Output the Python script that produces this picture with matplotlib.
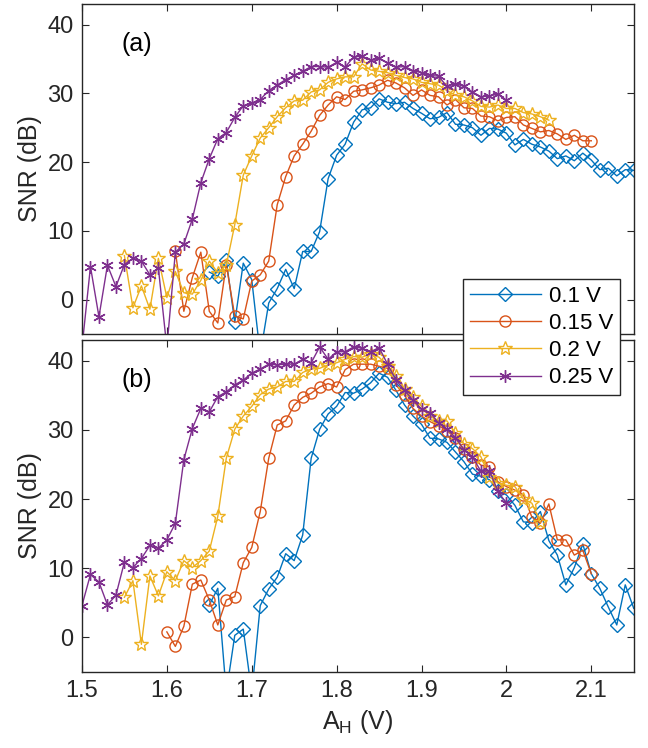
import numpy as np
import matplotlib as mpl
import matplotlib.pyplot as plt

mpl.use('Agg')

plt.rcParams['font.family'] = ['Liberation Sans', 'DejaVu Sans']
plt.rcParams['font.size'] = 16

# sweep step of A_H (V) and where each series starts
step = 0.01
labels = ['0.1 V', '0.15 V', '0.2 V', '0.25 V']
starts = [1.65, 1.61, 1.55, 1.50]
starts_b = [1.65, 1.60, 1.55, 1.50]

# panel (a) SNR values (dB)
blue_a = [4.0, 3.4, 5.7, -3.3, 5.3, 2.9, -8, -0.5, 1.6, 4.4,
          1.6, 7.0, 7.0, 9.9, 17.6, 21.0, 22.6, 25.8, 27.6, 27.9,
          29.2, 28.7, 28.5, 28.7, 27.8, 27.1, 26.3, 26.5, 27.2, 25.5,
          25.4, 25.0, 23.9, 24.9, 24.8, 24.2, 22.5, 23.3, 22.6, 22.2,
          21.6, 20.5, 20.9, 20.2, 21.3, 20.3, 18.9, 19.1, 18.0, 18.9,
          18.8]
orange_a = [7.0, -1.7, 3.2, 6.9, -1.7, -3.4, 5.1, -2.4, -2.8, 2.7,
            3.6, 5.6, 13.8, 17.9, 20.9, 22.6, 24.5, 26.8, 28.3, 29.5,
            29.1, 30.3, 30.5, 30.8, 31.2, 31.9, 31.5, 30.8, 29.7, 30.5,
            29.7, 29.5, 28.3, 29.1, 27.9, 27.8, 26.7, 26.6, 26.0, 26.5,
            26.6, 25.4, 24.9, 24.4, 24.6, 24.1, 23.3, 23.9, 23.1, 23.1]
yellow_a = [6.4, -1.2, 2.0, -1.4, 6.0, 0.3, 4.1, 1.0, 0.8, 2.8,
            5.6, 3.9, 5.0, 10.9, 18.1, 20.9, 23.5, 25.0, 26.6, 27.9,
            28.9, 29.0, 30.2, 30.5, 31.6, 32.1, 32.4, 32.4, 34.3, 33.4,
            33.2, 33.0, 32.6, 32.3, 32.1, 31.6, 31.4, 31.2, 30.4, 29.7,
            29.5, 28.9, 28.1, 28.0, 28.3, 27.8, 27.8, 27.2, 27.0, 26.6,
            26.1]
purple_a = [-7, 4.8, -2.5, 5.0, 1.9, 5.1, 6.0, 5.6, 3.6, 4.6,
            -7, 6.9, 8.1, 11.7, 17.0, 20.5, 23.4, 24.3, 26.5, 28.2,
            28.6, 29.1, 30.4, 31.2, 32.0, 32.6, 33.2, 33.9, 33.9, 33.8,
            34.5, 33.8, 35.3, 35.4, 34.8, 35.1, 34.4, 33.8, 33.9, 33.3,
            33.0, 32.6, 32.5, 31.0, 31.4, 31.0, 30.2, 29.5, 29.6, 29.9,
            29.0]

# panel (b) SNR values (dB)
blue_b = [4.7, 7.1, -8, 0.3, 1.2, -8, 4.6, 7.0, 8.7, 12.1,
          11.1, 14.8, 25.9, 30.1, 32.3, 33.4, 35.4, 35.3, 35.9, 36.8,
          38.2, 37.6, 35.7, 33.6, 32.0, 30.8, 28.8, 28.7, 28.2, 26.8,
          25.4, 23.6, 23.3, 22.8, 21.2, 20.6, 19.1, 16.7, 16.6, 18.2,
          14.0, 11.9, 7.6, 10.1, 13.5, 9.2, 7.1, 4.4, 1.8, 7.6,
          4.2]
orange_b = [0.8, -1.3, 1.6, 7.7, 8.3, 5.4, 1.8, 5.4, 5.9, 10.8,
            13.0, 18.2, 25.9, 30.7, 31.3, 33.6, 34.7, 35.3, 36.2, 36.7,
            36.2, 38.7, 39.5, 39.5, 39.5, 39.2, 38.9, 36.5, 35.0, 33.1,
            32.0, 31.2, 30.6, 29.9, 28.8, 27.2, 26.1, 24.9, 24.7, 22.5,
            21.8, 21.3, 20.6, 17.4, 16.5, 19.3, 14.1, 14.1, 11.9, 12.6,
            9.2]
yellow_b = [5.8, 8.2, -1.0, 8.9, 6.0, 9.5, 8.2, 11.1, 10.1, 11.1,
            12.5, 17.5, 25.9, 30.1, 32.0, 33.4, 35.1, 35.9, 36.2, 37.0,
            37.0, 38.3, 38.8, 38.9, 39.4, 39.7, 40.2, 40.6, 40.5, 41.0,
            40.5, 39.2, 37.8, 35.9, 34.7, 33.4, 32.0, 31.3, 31.3, 29.5,
            28.0, 27.3, 26.1, 23.2, 22.3, 22.0, 21.8, 20.0, 19.4, 16.7]
purple_b = [4.6, 9.1, 8.0, 4.7, 6.1, 10.9, 10.1, 11.4, 13.3, 12.9,
            14.1, 16.5, 25.7, 30.2, 33.1, 32.6, 34.8, 35.5, 36.5, 37.2,
            38.2, 38.8, 39.5, 39.4, 39.5, 39.5, 40.2, 39.7, 42.0, 40.2,
            41.3, 41.3, 42.0, 41.8, 41.3, 41.9, 39.5, 37.2, 35.7, 34.3,
            33.0, 32.5, 31.0, 30.1, 28.9, 27.1, 26.1, 24.0, 24.1, 21.1,
            19.4]

# MATLAB default colours and markers
colors = ['#0072BD', '#D95319', '#EDB120', '#7E2F8E']
markers = ['D', 'o', '*', (6, 2, 0)]
msizes = [7, 8, 10, 9]

fig = plt.figure(figsize=(6.48, 7.48), dpi=100)
ax_a = fig.add_axes([0.1265, 0.5535, 0.8515, 0.4412])
ax_b = fig.add_axes([0.1265, 0.1016, 0.8515, 0.4439])

panels = [(ax_a, [blue_a, orange_a, yellow_a, purple_a], starts, '(a)'),
          (ax_b, [blue_b, orange_b, yellow_b, purple_b], starts_b, '(b)')]

handles = []
for ax, series, x0s, tag in panels:
    handles = []
    for y, x0, c, m, ms, lab in zip(series, x0s, colors, markers, msizes, labels):
        x = x0 + step * np.arange(len(y))
        h, = ax.plot(x, y, color=c, lw=1.0, marker=m, ms=ms,
                     mfc='none', mec=c, mew=1.0, label=lab)
        handles.append(h)
    ax.set_xlim(1.5, 2.15)
    ax.set_ylim(-5, 43)
    ax.set_yticks([0, 10, 20, 30, 40])
    ax.set_xticks([1.5, 1.6, 1.7, 1.8, 1.9, 2.0, 2.1])
    ax.set_xticklabels(['1.5', '1.6', '1.7', '1.8', '1.9', '2', '2.1'])
    ax.tick_params(direction='in', top=True, right=True, length=5,
                   width=0.8, colors='#262626', labelsize=17, pad=6)
    for sp in ax.spines.values():
        sp.set_color('#262626')
        sp.set_linewidth(1.0)
    ax.set_ylabel('SNR (dB)', fontsize=18, color='#262626', labelpad=4)
    ax.text(0.10, 0.88, tag, transform=ax.transAxes, fontsize=18,
            ha='center', va='center', color='black')

ax_a.tick_params(labelbottom=False)
ax_b.set_xlabel(r'$\mathregular{A_H}$ (V)', fontsize=18, color='#262626',
                labelpad=4)

# legend straddles both panels
leg = fig.legend(handles=handles, loc='upper left',
                 bbox_to_anchor=(463 / 648, 1 - 279 / 748),
                 fontsize=16, frameon=True, fancybox=False, framealpha=1,
                 edgecolor='#262626', handlelength=3.2, numpoints=1,
                 borderpad=0.3, labelspacing=0.28, handletextpad=0.35,
                 borderaxespad=0)
leg.get_frame().set_linewidth(1.0)

fig.savefig('out.png', dpi=100)
